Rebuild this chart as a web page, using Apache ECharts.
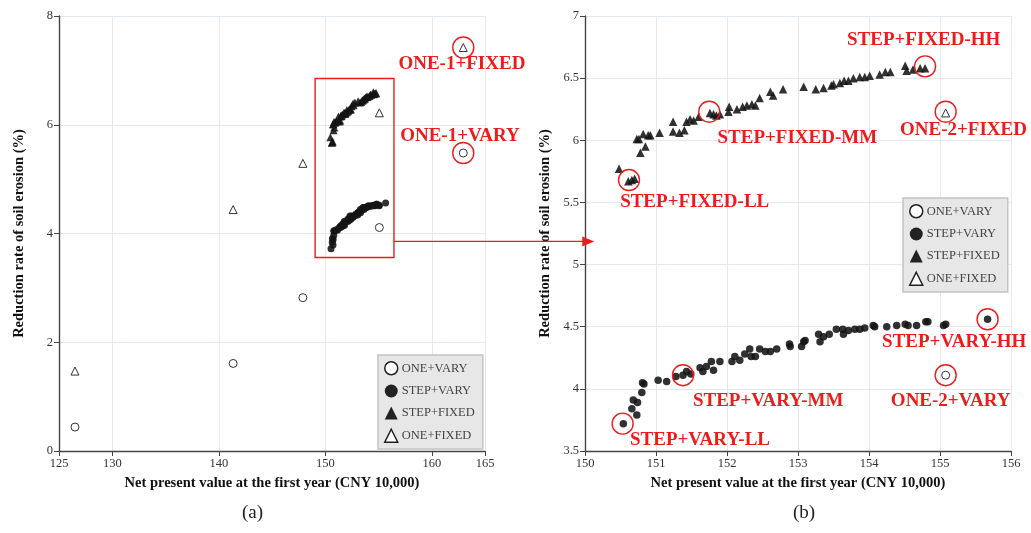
<!DOCTYPE html>
<html><head><meta charset="utf-8">
<script src="https://cdn.jsdelivr.net/npm/echarts@6/dist/echarts.min.js"></script>
<style>html,body{margin:0;padding:0;background:#fff}#c{width:1031px;height:533px}</style>
</head><body><div id="c"></div>
<script>
const serif = '"Liberation Serif", "DejaVu Serif", serif';
const red = '#ec1c1c';
const seriesNames = ['ONE+VARY', 'STEP+VARY', 'STEP+FIXED', 'ONE+FIXED'];
const xTicksA = [125, 130, 140, 150, 160, 165];

const oneVary = [[126.5,0.44],[141.35,1.61],[147.9,2.82],[155.08,4.11],[162.96,5.48]];
const oneFixed = [[126.5,1.47],[141.35,4.44],[147.9,5.29],[155.08,6.22],[162.96,7.42]];
const stepFixed = [[150.48,5.77],[150.61,5.67],[150.66,5.68],[150.70,5.69],[150.73,6.01],[150.76,6.01],[150.78,5.90],[150.82,6.05],[150.85,5.95],[150.89,6.04],[150.92,6.04],[151.05,6.06],[151.24,6.15],[151.24,6.07],[151.33,6.06],[151.40,6.08],[151.43,6.15],[151.48,6.17],[151.53,6.16],[151.60,6.19],[151.76,6.22],[151.81,6.21],[151.85,6.20],[151.90,6.21],[152.02,6.23],[152.03,6.27],[152.14,6.25],[152.22,6.27],[152.28,6.28],[152.35,6.29],[152.40,6.28],[152.46,6.34],[152.61,6.39],[152.65,6.36],[152.79,6.41],[153.08,6.43],[153.25,6.41],[153.36,6.42],[153.47,6.44],[153.50,6.45],[153.59,6.46],[153.65,6.48],[153.71,6.48],[153.78,6.50],[153.87,6.51],[153.94,6.51],[154.01,6.52],[154.15,6.53],[154.23,6.55],[154.30,6.55],[154.51,6.60],[154.53,6.56],[154.62,6.57],[154.72,6.58],[154.79,6.58]];
const stepVary = [[150.54,3.72],[150.66,3.84],[150.73,3.79],[150.68,3.91],[150.74,3.89],[150.80,3.97],[150.81,4.05],[150.83,4.04],[151.03,4.07],[151.15,4.06],[151.28,4.10],[151.38,4.11],[151.43,4.14],[151.49,4.12],[151.62,4.17],[151.66,4.14],[151.71,4.18],[151.78,4.22],[151.81,4.15],[151.90,4.22],[152.07,4.22],[152.11,4.26],[152.18,4.23],[152.25,4.28],[152.32,4.32],[152.34,4.26],[152.40,4.26],[152.46,4.32],[152.54,4.30],[152.61,4.30],[152.70,4.32],[152.88,4.36],[152.89,4.34],[153.05,4.34],[153.08,4.38],[153.10,4.39],[153.29,4.44],[153.31,4.38],[153.36,4.42],[153.44,4.44],[153.54,4.48],[153.63,4.48],[153.64,4.44],[153.71,4.47],[153.80,4.48],[153.87,4.48],[153.94,4.49],[154.06,4.51],[154.08,4.50],[154.25,4.50],[154.39,4.51],[154.51,4.52],[154.55,4.51],[154.67,4.51],[154.80,4.54],[154.83,4.54],[155.05,4.51],[155.08,4.52],[155.67,4.56]];

// annotation circles and labels
const circlesA = [[162.96,7.42],[162.96,5.48]];
const labelsA = [['ONE-1+FIXED',162.83,7.11],['ONE-1+VARY',162.65,5.80]];
const circlesB = [[154.79,6.595],[151.75,6.23],[155.08,6.23],[150.62,5.68],[155.67,4.56],[151.38,4.11],[155.08,4.11],[150.53,3.72]];
const labelsB = [['STEP+FIXED-HH',154.77,6.81],['STEP+FIXED-MM',152.99,6.02],['ONE-2+FIXED',155.33,6.08],['STEP+FIXED-LL',151.545,5.50],['STEP+VARY-HH',155.20,4.377],['STEP+VARY-MM',152.58,3.90],['ONE-2+VARY',155.15,3.90],['STEP+VARY-LL',151.62,3.59]];
const boxA = [149.05, 3.56, 156.45, 6.85];
const arrowY = 3.855;
const arrowEndX = 150.13;

const chart = echarts.init(document.getElementById('c'), null, {renderer:'canvas'});

const axisLineS = {show:true, lineStyle:{color:'#444', width:1.4}};
const tickS = {show:true, length:5, lineStyle:{color:'#444', width:1}};
const labS = {fontFamily:serif, fontSize:12.5, color:'#333', margin:6};
const splitS = {show:true, lineStyle:{color:'#e3e8f1', width:1}};
const nameS = {fontFamily:serif, fontWeight:'bold', fontSize:14.5, color:'#111'};
const xName = 'Net present value at the first year (CNY 10,000)';
const yName = 'Reduction rate of soil erosion (%)';

function xAx(gi, extra) {
  return Object.assign({type:'value', gridIndex:gi, name:xName, nameLocation:'middle', nameGap:25, nameTextStyle:nameS,
    axisLine:axisLineS, axisTick:Object.assign({}, tickS), axisLabel:Object.assign({}, labS), splitLine:splitS}, extra);
}
function yAx(gi, extra) {
  return Object.assign({type:'value', gridIndex:gi, name:yName, nameLocation:'middle', nameGap:32, nameTextStyle:nameS,
    axisLine:axisLineS, axisTick:tickS, axisLabel:labS, splitLine:splitS}, extra);
}

const openStyle = {color:'#fff', borderColor:'#333', borderWidth:1, opacity:1};
const fillStyle = {color:'rgba(20,20,20,0.88)', borderWidth:0, opacity:1};
function sc(name, gi, data, symbol, size, style) {
  return {type:'scatter', name, xAxisIndex:gi, yAxisIndex:gi, data, symbol, symbolSize:size, itemStyle:style, z:3, emphasis:{disabled:true}, clip:true};
}
function circles(gi, data) {
  return {type:'scatter', xAxisIndex:gi, yAxisIndex:gi, data, symbol:'circle', symbolSize:21, silent:true, z:5,
    itemStyle:{color:'rgba(0,0,0,0)', borderColor:red, borderWidth:1.4, opacity:1}, emphasis:{disabled:true}};
}
function labels(gi, data) {
  return {type:'scatter', xAxisIndex:gi, yAxisIndex:gi, symbolSize:0, silent:true, z:6,
    data:data.map(d => ({name:d[0], value:[d[1], d[2]]})),
    itemStyle:{color:'rgba(0,0,0,0)', opacity:1}, emphasis:{disabled:true},
    label:{show:true, position:'inside', formatter:'{b}', color:red, opacity:1, fontFamily:serif, fontWeight:'bold', fontSize:19}};
}

const legendData = [
  {name:'ONE+VARY', icon:'circle', itemStyle:{color:'#fff', borderColor:'#222', borderWidth:1.5, opacity:1}},
  {name:'STEP+VARY', icon:'circle', itemStyle:{color:'#222', borderWidth:0, opacity:1}},
  {name:'STEP+FIXED', icon:'triangle', itemStyle:{color:'#222', borderWidth:0, opacity:1}},
  {name:'ONE+FIXED', icon:'triangle', itemStyle:{color:'#fff', borderColor:'#222', borderWidth:1.5, opacity:1}}
];
function leg(left, top) {
  return {left, top, orient:'vertical', data:legendData, itemWidth:13, itemHeight:13, itemGap:9,
    backgroundColor:'#e7e7e7', borderColor:'#c4c4c4', borderWidth:1.5, padding:[6,8,6,6], selectedMode:false,
    textStyle:{fontFamily:serif, fontSize:12.5, color:'#444', padding:[0,0,0,-1]}};
}

const xA = xAx(0, {min:125, max:165});
xA.axisTick.customValues = xTicksA;
xA.axisLabel.customValues = xTicksA;

chart.setOption({
  animation:false,
  title:[
    {text:'(a)', left:237, top:499, textStyle:{fontFamily:serif, fontSize:19, fontWeight:'normal', color:'#222'}},
    {text:'(b)', left:788, top:499, textStyle:{fontFamily:serif, fontSize:19, fontWeight:'normal', color:'#222'}}
  ],
  grid:[
    {left:59, right:546, top:16, bottom:82, containLabel:false},
    {left:585, right:20, top:16, bottom:82, containLabel:false}
  ],
  xAxis:[xA, xAx(1, {min:150, max:156, interval:1})],
  yAxis:[yAx(0, {min:0, max:8, interval:2}), yAx(1, {min:3.5, max:7, interval:0.5})],
  legend:[leg(378, 355), leg(903, 198)],
  series:[
    sc(seriesNames[0], 0, oneVary, 'circle', 8, openStyle),
    sc(seriesNames[1], 0, stepVary, 'circle', 7, fillStyle),
    sc(seriesNames[2], 0, stepFixed, 'triangle', 8, fillStyle),
    sc(seriesNames[3], 0, oneFixed, 'triangle', 8, openStyle),
    sc(seriesNames[0], 1, oneVary, 'circle', 8, openStyle),
    sc(seriesNames[1], 1, stepVary, 'circle', 7.5, fillStyle),
    sc(seriesNames[2], 1, stepFixed, 'triangle', 8.5, fillStyle),
    sc(seriesNames[3], 1, oneFixed, 'triangle', 8, openStyle),
    Object.assign(circles(0, circlesA), {markArea:{silent:true, itemStyle:{color:'rgba(0,0,0,0)', borderColor:red, borderWidth:1.4, opacity:1},
      data:[[{xAxis:boxA[0], yAxis:boxA[1]}, {xAxis:boxA[2], yAxis:boxA[3]}]]}}),
    circles(1, circlesB),
    labels(0, labelsA),
    labels(1, labelsB)
  ]
});

const p1 = chart.convertToPixel({gridIndex:0}, [boxA[2], arrowY]);
const ex = chart.convertToPixel({xAxisIndex:1}, arrowEndX);
chart.setOption({graphic:[
  {type:'line', z:10, shape:{x1:p1[0], y1:p1[1], x2:ex-10, y2:p1[1]}, style:{stroke:red, lineWidth:1.4}},
  {type:'polygon', z:10, shape:{points:[[ex-12, p1[1]-5], [ex, p1[1]], [ex-12, p1[1]+5]]}, style:{fill:red}}
]});
</script></body></html>
